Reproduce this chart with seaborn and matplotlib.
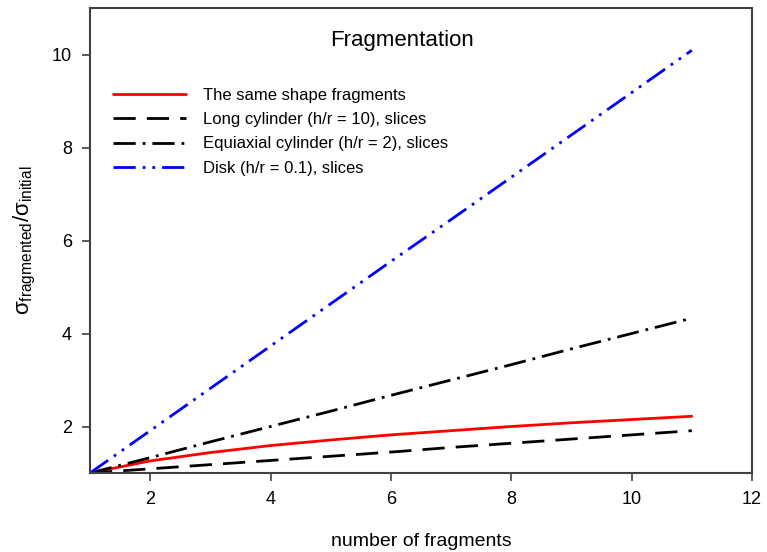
import pandas as pd
import seaborn as sns
import matplotlib
matplotlib.use("Agg")
import matplotlib.pyplot as plt

sns.set_style("white")
plt.rcParams['font.family'] = ['Liberation Sans', 'DejaVu Sans']
plt.rcParams['text.color'] = 'black'
plt.rcParams['axes.labelcolor'] = 'black'
plt.rcParams['xtick.color'] = 'black'
plt.rcParams['ytick.color'] = 'black'
plt.rcParams['mathtext.fontset'] = 'custom'
plt.rcParams['mathtext.rm'] = 'Liberation Sans'
plt.rcParams['mathtext.it'] = 'Liberation Sans'
plt.rcParams['mathtext.bf'] = 'Liberation Sans:bold'

# values (integer numbers of fragments)
n_fragments = [1, 2, 3, 4, 5, 6, 7, 8, 9, 10, 11]
same_shape = [1.00, 1.26, 1.44, 1.59, 1.71, 1.82, 1.91, 2.00, 2.08, 2.15, 2.22]
long_cyl = [1.00, 1.09, 1.18, 1.27, 1.36, 1.45, 1.55, 1.64, 1.73, 1.82, 1.91]
equi_cyl = [1.00, 1.33, 1.67, 2.00, 2.33, 2.67, 3.00, 3.33, 3.67, 4.00, 4.33]
disk = [1.00, 1.91, 2.82, 3.73, 4.64, 5.55, 6.45, 7.36, 8.27, 9.18, 10.09]

labels = ["The same shape fragments",
          "Long cylinder (h/r = 10), slices",
          "Equiaxial cylinder (h/r = 2), slices",
          "Disk (h/r = 0.1), slices"]
colors = ["#ff0000", "#000000", "#000000", "#0000ff"]
dashes = [(), (8, 4), (8, 2.5, 1, 2.5), (8, 2.5, 1, 2.5, 1, 2.5)]

df = pd.DataFrame({"n": n_fragments * 4,
                   "ratio": same_shape + long_cyl + equi_cyl + disk,
                   "series": [l for l in labels for _ in n_fragments]})

fig = plt.figure(figsize=(7.67, 5.52), dpi=100)
ax = fig.add_axes([0.1173, 0.1431, 0.8631, 0.8424])

sns.lineplot(data=df, x="n", y="ratio", hue="series", style="series",
             hue_order=labels, style_order=labels,
             palette=dict(zip(labels, colors)),
             dashes=dict(zip(labels, dashes)),
             linewidth=2, ax=ax)

ax.set_xlim(1, 12)
ax.set_ylim(1, 11)
ax.set_xticks([2, 4, 6, 8, 10, 12])
ax.set_yticks([2, 4, 6, 8, 10])
ax.tick_params(axis='both', direction='out', length=6, width=1.2,
               color='#404040', labelsize=13, bottom=True, left=True, pad=7)
for sp in ax.spines.values():
    sp.set_color('#404040')
    sp.set_linewidth(1.5)

ax.set_xlabel("number of fragments", fontsize=14, labelpad=18)
ax.set_ylabel(r"$\sigma_{\mathrm{fragmented}}/\sigma_{\mathrm{initial}}$",
              fontsize=16, labelpad=10)
ax.text(0.472, 0.93, "Fragmentation", transform=ax.transAxes,
        ha='center', va='center', fontsize=16)

leg = ax.legend(loc='upper left', bbox_to_anchor=(0.012, 0.86), frameon=False,
                fontsize=12, handlelength=4.4, handletextpad=1.0,
                labelspacing=0.55)
for line in leg.get_lines():
    line.set_linewidth(2)

fig.savefig("out.png", dpi=100)
